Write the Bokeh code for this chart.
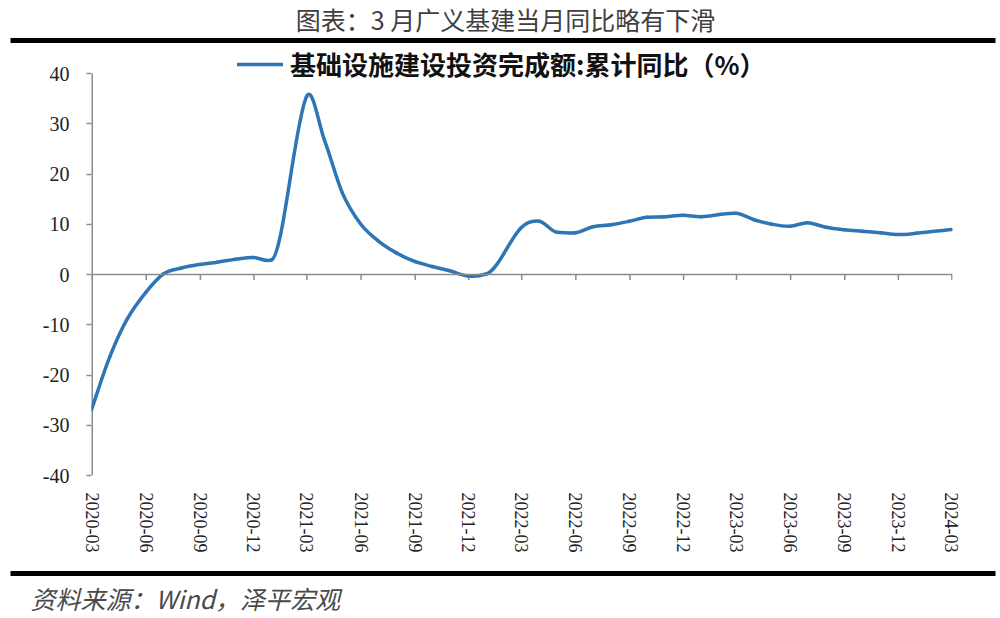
import numpy as np
import pandas as pd
from bokeh.plotting import figure
from bokeh.layouts import column
from bokeh.models import (Range1d, FixedTicker, Span, Legend, LegendItem,
                          DatetimeTickFormatter, NumeralTickFormatter, ColumnDataSource)
from bokeh.core.properties import value
from bokeh.embed import file_html
from bokeh.resources import INLINE

# ---------------- data (month of cumulative YoY, value in %) ----------------
months = ["2020-02", "2020-03", "2020-04", "2020-05", "2020-06", "2020-07", "2020-08",
          "2020-09", "2020-10", "2020-11", "2020-12",
          "2021-02", "2021-03", "2021-04", "2021-05", "2021-06", "2021-07", "2021-08",
          "2021-09", "2021-10", "2021-11", "2021-12",
          "2022-02", "2022-03", "2022-04", "2022-05", "2022-06", "2022-07", "2022-08",
          "2022-09", "2022-10", "2022-11", "2022-12",
          "2023-02", "2023-03", "2023-04", "2023-05", "2023-06", "2023-07", "2023-08",
          "2023-09", "2023-10", "2023-11", "2023-12",
          "2024-02"]
yoy = [-26.9, -16.4, -8.8, -3.6, 0.1, 1.3, 2.0,
       2.45, 3.05, 3.4, 2.9,
       35.3, 26.7, 16.3, 10.1, 6.7, 4.3, 2.6,
       1.6, 0.7, -0.3, 0.1,
       9.3, 10.6, 8.4, 8.3, 9.5, 9.9, 10.6,
       11.4, 11.5, 11.8, 11.5,
       12.2, 10.9, 10.0, 9.6, 10.3, 9.4, 8.9,
       8.6, 8.3, 7.95, 8.2,
       8.95]
tick_labels = ["2020-03", "2020-06", "2020-09", "2020-12", "2021-03", "2021-06",
               "2021-09", "2021-12", "2022-03", "2022-06", "2022-09", "2022-12",
               "2023-03", "2023-06", "2023-09", "2023-12", "2024-03"]
y_ticks = [-40, -30, -20, -10, 0, 10, 20, 30, 40]

series_name = "基础设施建设投资完成额:累计同比（%）"
title_text = "图表：3 月广义基建当月同比略有下滑"
source_text = "资料来源：Wind，泽平宏观"

BLUE = "#2E75B6"
GRAY = "#8c8c8c"
W = 1000

# ---------------- coordinates ----------------
def to_ms(ts):
    return np.array(pd.DatetimeIndex(ts).values.astype("datetime64[ms]").astype("int64"), dtype=float)

dates = pd.to_datetime(months) + pd.offsets.MonthEnd(0)   # cumulative value at month end
x = to_ms(dates)
y = np.array(yoy, dtype=float)
ticks_ms = to_ms(pd.to_datetime(tick_labels))

# Smooth (Excel-like) curve: cubic Bezier segments through the data points
xd = x / 86400000.0
n = len(y)
m = np.zeros(n)
for i in range(n):
    if i == 0:
        m[i] = (y[1] - y[0]) / (xd[1] - xd[0])
    elif i == n - 1:
        m[i] = (y[-1] - y[-2]) / (xd[-1] - xd[-2])
    else:
        m[i] = (y[i + 1] - y[i - 1]) / (xd[i + 1] - xd[i - 1])
        s0 = (y[i] - y[i - 1]) / (xd[i] - xd[i - 1])
        s1 = (y[i + 1] - y[i]) / (xd[i + 1] - xd[i])
        lim = 3 * min(abs(s0), abs(s1))
        m[i] = float(np.clip(m[i], -lim, lim))
h = xd[1:] - xd[:-1]
seg = ColumnDataSource(dict(
    x0=x[:-1], y0=y[:-1], x1=x[1:], y1=y[1:],
    cx0=x[:-1] + (x[1:] - x[:-1]) / 3, cy0=y[:-1] + m[:-1] * h / 3,
    cx1=x[1:] - (x[1:] - x[:-1]) / 3, cy1=y[1:] - m[1:] * h / 3,
))

def plain(fig):
    fig.outline_line_color = None
    fig.background_fill_color = "white"
    fig.border_fill_color = "white"
    return fig

# ---------------- top strip: title + rule ----------------
TOP_H = 44
top = figure(width=W, height=TOP_H, output_backend="svg", toolbar_location=None,
             x_range=Range1d(0, W), y_range=Range1d(TOP_H, 0),
             x_axis_location=None, y_axis_location=None, frame_align=False,
             min_border_left=0, min_border_right=0, min_border_top=0, min_border_bottom=0)
plain(top)
top.grid.visible = False
top.text(x=[505], y=[18.5], text=[title_text], text_font=value("Noto Sans CJK SC"),
         text_font_size="25px", text_align="center", text_baseline="middle",
         text_color="#404040")
top.quad(left=[10], right=[995], top=[37.5], bottom=[42.5], fill_color="black", line_color=None)

# ---------------- main chart ----------------
MAIN_H = 516          # canvas rows 44 .. 560
frame_top, frame_bottom = 46, 475          # canvas rows
y40_row, yneg40_row = 73, 475
units_per_px = 80 / (yneg40_row - y40_row)
y_top = 40 + (y40_row - frame_top) * units_per_px

x_start = x[0]
x_end = ticks_ms[-1] + 86400000.0

p = figure(width=W, height=MAIN_H, x_axis_type="datetime", output_backend="svg",
           toolbar_location=None, x_range=Range1d(x_start, x_end), y_range=Range1d(-40, y_top),
           frame_align=False,
           min_border_left=91, min_border_right=48,
           min_border_top=frame_top - TOP_H, min_border_bottom=TOP_H + MAIN_H - frame_bottom)
plain(p)
p.xgrid.visible = False
p.ygrid.visible = False

# y axis
p.yaxis.ticker = FixedTicker(ticks=y_ticks)
p.yaxis.formatter = NumeralTickFormatter(format="0")
p.yaxis.axis_line_color = None
p.yaxis.major_tick_line_color = GRAY
p.yaxis.major_tick_line_width = 1.5
p.yaxis.major_tick_out = 5
p.yaxis.major_tick_in = 0
p.yaxis.minor_tick_line_color = None
p.yaxis.major_label_standoff = 17
p.yaxis.major_label_text_font = "Liberation Serif"
p.yaxis.major_label_text_font_size = "20px"
p.yaxis.major_label_text_color = "#222222"
p.segment(x0=[x_start], y0=[y_ticks[0]], x1=[x_start], y1=[y_ticks[-1]],
          line_color=GRAY, line_width=3)

# x axis (labels at the bottom, axis line drawn at zero)
fmt = "%Y-%m"
p.xaxis.ticker = FixedTicker(ticks=list(ticks_ms))
p.xaxis.formatter = DatetimeTickFormatter(years=fmt, months=fmt, days=fmt, hours=fmt,
                                          hourmin=fmt, minutes=fmt, minsec=fmt, seconds=fmt,
                                          milliseconds=fmt, microseconds=fmt)
p.xaxis.axis_line_color = None
p.xaxis.major_tick_line_color = None
p.xaxis.minor_tick_line_color = None
p.xaxis.major_label_orientation = "vertical"
p.xaxis.major_label_standoff = 11
p.xaxis.major_label_text_font = "Liberation Serif"
p.xaxis.major_label_text_font_size = "18px"
p.xaxis.major_label_text_color = "#222222"

p.add_layout(Span(location=0, dimension="width", line_color=GRAY, line_width=1.5))
tick_src = ColumnDataSource(dict(x=ticks_ms, y0=np.zeros(len(ticks_ms)),
                                 y1=np.full(len(ticks_ms), -1.1)))
p.segment(x0="x", y0="y0", x1="x", y1="y1", source=tick_src, line_color=GRAY, line_width=1.5)

# the series
r = p.bezier(x0="x0", y0="y0", x1="x1", y1="y1", cx0="cx0", cy0="cy0", cx1="cx1", cy1="cy1",
             source=seg, line_color=BLUE, line_width=3.5, line_cap="round")

legend_bottom_row = 82
legend = Legend(items=[LegendItem(label=series_name, renderers=[r])],
                location=(237 - 91, frame_bottom - legend_bottom_row), orientation="horizontal",
                padding=0, margin=0, border_line_color=None, background_fill_alpha=0,
                glyph_width=46, glyph_height=20, label_standoff=7,
                label_text_font="Noto Sans CJK SC", label_text_font_style="bold",
                label_text_font_size="26px", label_text_color="#111111")
p.add_layout(legend)

# ---------------- bottom strip: rule + source ----------------
BOT_H = 618 - TOP_H - MAIN_H      # canvas rows 560 .. 618
y0b = TOP_H + MAIN_H
bot = figure(width=W, height=BOT_H, output_backend="svg", toolbar_location=None,
             x_range=Range1d(0, W), y_range=Range1d(y0b + BOT_H, y0b),
             x_axis_location=None, y_axis_location=None, frame_align=False,
             min_border_left=0, min_border_right=0, min_border_top=0, min_border_bottom=0)
plain(bot)
bot.grid.visible = False
bot.quad(left=[10], right=[995], top=[570.5], bottom=[575.5], fill_color="black", line_color=None)
bot.text(x=[30], y=[597.5], text=[source_text], text_font=value("Noto Sans CJK SC"),
         text_font_style="italic", text_font_size="25px", text_align="left",
         text_baseline="middle", text_color="#4a4a4a")

layout = column(top, p, bot, spacing=0)
open("out.html", "w").write(file_html(layout, INLINE))
